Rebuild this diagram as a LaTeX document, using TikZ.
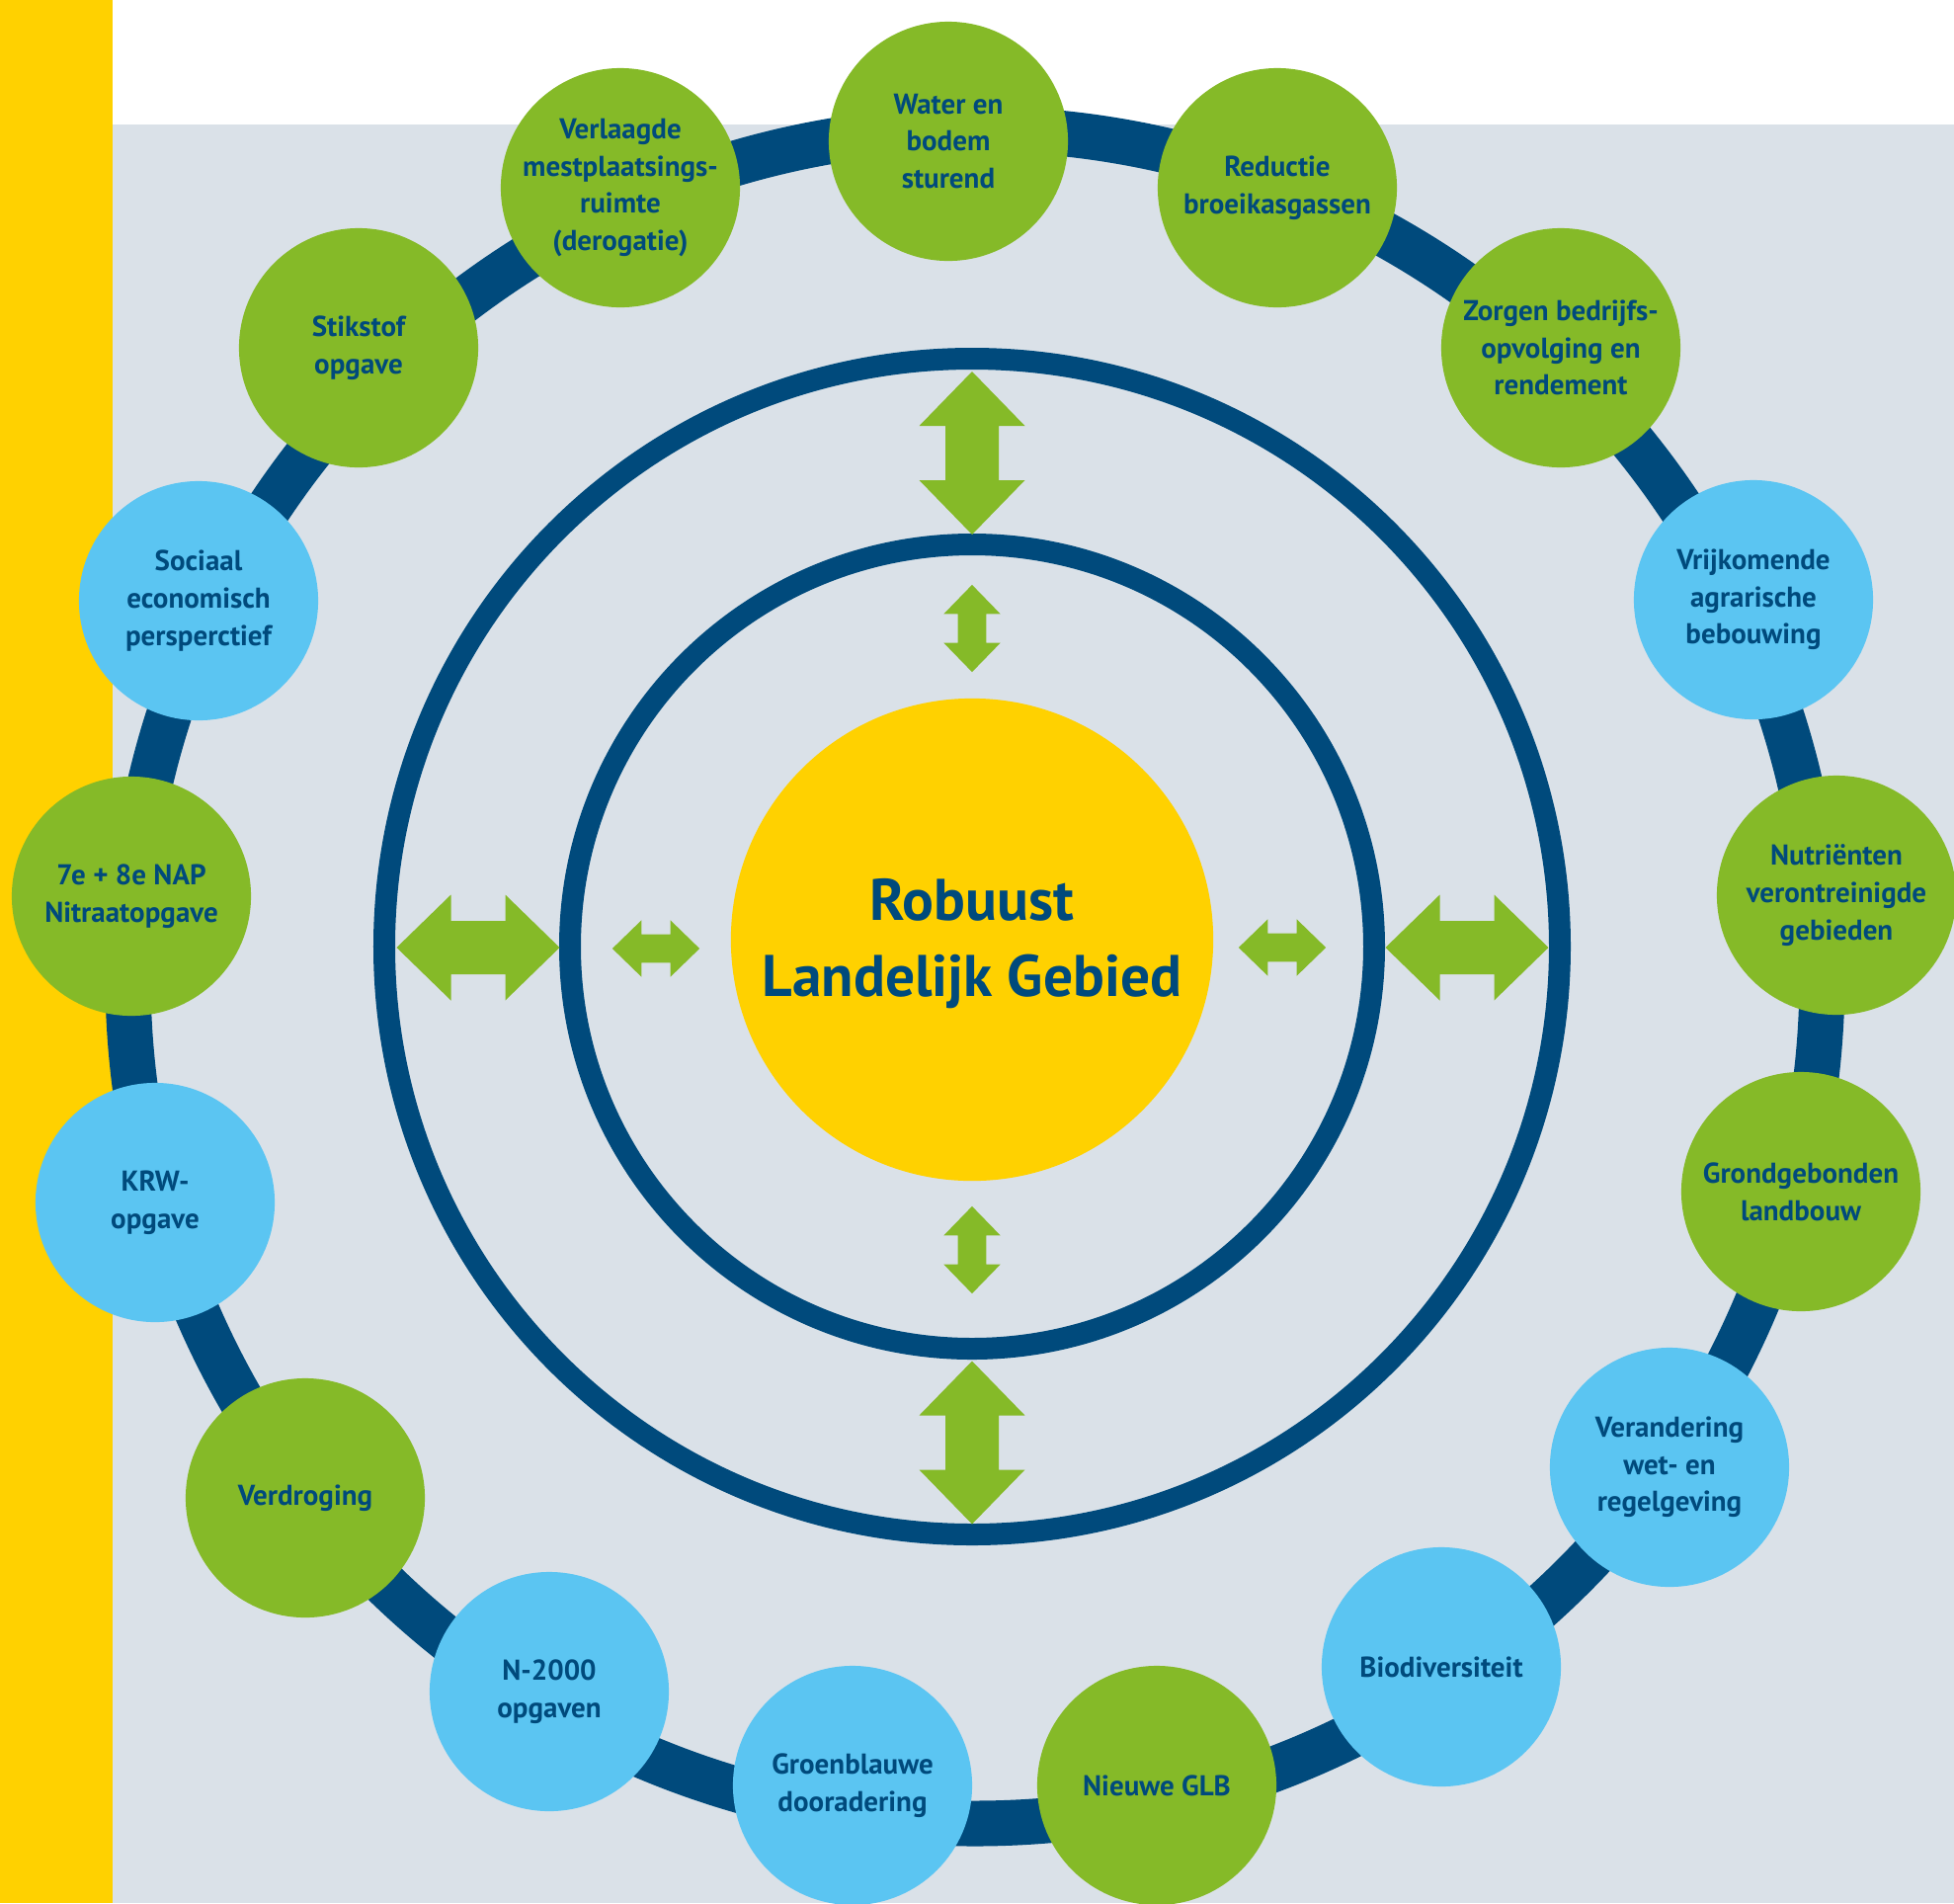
\documentclass[tikz,border=0pt]{standalone}
\usepackage{fontspec}
\setmainfont{PT Sans}
\usepackage{tikz}
\usetikzlibrary{calc}

\definecolor{donkerblauw}{RGB}{0,74,124}
\definecolor{grasgroen}{RGB}{133,186,40}
\definecolor{lichtblauw}{RGB}{91,197,242}
\definecolor{zongeel}{RGB}{255,209,0}
\definecolor{achtergrond}{RGB}{218,225,232}

\begin{document}
\begin{tikzpicture}[x=0.01cm, y=-0.01cm,
	bol/.style={circle, minimum size=2.42cm, inner sep=0pt, align=center,
		text=donkerblauw, font=\bfseries\fontsize{8.25}{10.73}\selectfont},
	groen/.style={bol, fill=grasgroen},
	blauw/.style={bol, fill=lichtblauw},
	kern/.style={circle, minimum size=4.88cm, inner sep=0pt, align=center,
		fill=zongeel, text=donkerblauw, font=\bfseries\fontsize{16.9}{22}\selectfont},
	ring/.style={draw=donkerblauw, line width=0.22cm},
	pijl/.style={fill=grasgroen}]

	% ---- parameters

	\def\rbuiten{595}
	\def\rbinnen{407}
	\def\rbollen{857.5}

	% ---- coordinates

	\coordinate (M) at (984,958);
	\coordinate (B) at (987,988);

	% ---- canvas

	\useasboundingbox (0,0) rectangle (1978,1926);
	\fill[white] (0,0) rectangle (1978,1926);
	\fill[achtergrond] (114,126) rectangle (1978,1926);
	\fill[zongeel] (0,0) rectangle (114,1926);

	% ---- ring of themes

	\draw[donkerblauw, line width=0.46cm] (B) circle[radius=\rbollen];

	% ---- themes

	\node[groen] (water)      at (960,143)   {Water en\\bodem\\sturend};
	\node[groen] (reductie)   at (1293,190)  {Reductie\\broeikasgassen};
	\node[groen] (opvolging)  at (1580,352)  {Zorgen bedrijfs-\\opvolging en\\rendement};
	\node[blauw] (bebouwing)  at (1775,607)  {Vrijkomende\\agrarische\\bebouwing};
	\node[groen] (nutrienten) at (1859,906)  {Nutriënten\\verontreinigde\\gebieden};
	\node[groen] (grond)      at (1823,1206) {Grondgebonden\\landbouw};
	\node[blauw] (regels)     at (1690,1485) {Verandering\\wet- en\\regelgeving};
	\node[blauw] (biodiv)     at (1459,1687) {Biodiversiteit};
	\node[groen] (glb)        at (1171,1807) {Nieuwe GLB};
	\node[blauw] (groenblauw) at (863,1807)  {Groenblauwe\\dooradering};
	\node[blauw] (natura)     at (556,1712)  {N-2000\\opgaven};
	\node[groen] (verdroging) at (309,1516)  {Verdroging};
	\node[blauw] (krw)        at (157,1217)  {KRW-\\opgave};
	\node[groen] (nap)        at (133,907)   {7e + 8e NAP\\Nitraatopgave};
	\node[blauw] (sociaal)    at (201,608)   {Sociaal\\economisch\\persperctief};
	\node[groen] (stikstof)   at (363,352)   {Stikstof\\opgave};
	\node[groen] (mest)       at (628,190)   {Verlaagde\\mestplaatsings-\\ruimte\\(derogatie)};

	% ---- inner rings

	\draw[ring] (M) circle[radius=\rbuiten];
	\draw[ring] (M) circle[radius=\rbinnen];

	% ---- centre

	\node[kern] (kern) at (984,951) {};
	\node[text=donkerblauw, align=center, font=\bfseries\fontsize{16.9}{22}\selectfont]
		(titel) at (984,955) {Robuust\\Landelijk Gebied};

	% ---- double arrows

	\foreach \x/\y/\r/\s in {984/458.5/90/1, 984/1460/90/1, 484/959/0/1, 1485/959/0/1,
		984/636/90/0.535, 984/1265/90/0.535, 664/960/0/0.535, 1298/959/0/0.535} {
		\fill[pijl, shift={(\x,\y)}, rotate=\r, scale=\s]
			(-82.5,0) -- (-27.5,53.5) -- (-27.5,27) -- (27.5,27) -- (27.5,53.5)
			-- (82.5,0) -- (27.5,-53.5) -- (27.5,-27) -- (-27.5,-27) -- (-27.5,-53.5) -- cycle;
	}

\end{tikzpicture}
\end{document}
